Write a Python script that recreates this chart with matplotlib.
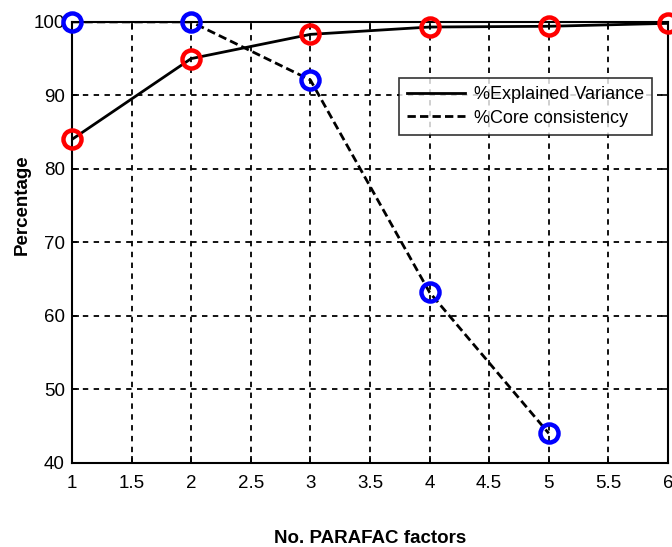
import matplotlib
matplotlib.use("Agg")
import matplotlib.pyplot as plt

# number of PARAFAC factors
factors = [1, 2, 3, 4, 5, 6]
explained_variance = [84.0, 95.0, 98.3, 99.3, 99.4, 99.8]

core_factors = [1, 2, 3, 4, 5]
core_consistency = [100.0, 100.0, 92.1, 63.2, 44.0]

xticks = [1, 1.5, 2, 2.5, 3, 3.5, 4, 4.5, 5, 5.5, 6]
xticklabels = ['1', '1.5', '2', '2.5', '3', '3.5', '4', '4.5', '5', '5.5', '6']
yticks = [40, 50, 60, 70, 80, 90, 100]

plt.rcParams['font.family'] = ['Liberation Sans', 'DejaVu Sans']

fig = plt.figure(figsize=(6.72, 5.47), dpi=100)
ax = fig.add_axes([0.107, 0.154, 0.887, 0.806])

ax.plot(factors, explained_variance, '-', color='black', lw=2,
        label='%Explained Variance', zorder=3)
ax.plot(core_factors, core_consistency, '--', color='black', lw=2,
        dashes=(3, 1.5), label='%Core consistency', zorder=3)

# markers drawn separately so the legend shows lines only
ax.plot(factors, explained_variance, 'o', ms=13, mfc='none', mec='red',
        mew=3.2, zorder=4, clip_on=False)
ax.plot(core_factors, core_consistency, 'o', ms=13, mfc='none', mec='blue',
        mew=3.2, zorder=4, clip_on=False)

ax.set_xlim(1, 6)
ax.set_ylim(40, 100)
ax.set_xticks(xticks)
ax.set_xticklabels(xticklabels)
ax.set_yticks(yticks)
ax.tick_params(labelsize=13.5, direction='in', length=5, width=1.2,
               top=True, right=True)
ax.tick_params(axis='x', pad=9)
ax.tick_params(axis='y', pad=5)

ax.grid(True, color='black', linestyle=(0, (3, 3)), lw=1.3)
for s in ax.spines.values():
    s.set_linewidth(1.5)

ax.set_xlabel('No. PARAFAC factors', fontsize=13.5, fontweight='bold', labelpad=27)
ax.set_ylabel('Percentage', fontsize=13.5, fontweight='bold')
ax.yaxis.set_label_coords(-0.069, 0.585)

leg = ax.legend(loc='upper right', bbox_to_anchor=(0.989, 0.893), fontsize=13,
                frameon=True, fancybox=False, edgecolor='black',
                handlelength=3.2, borderpad=0.45, labelspacing=0.35,
                handletextpad=0.5)
leg.get_frame().set_linewidth(1.2)

fig.savefig('out.png', dpi=100)
